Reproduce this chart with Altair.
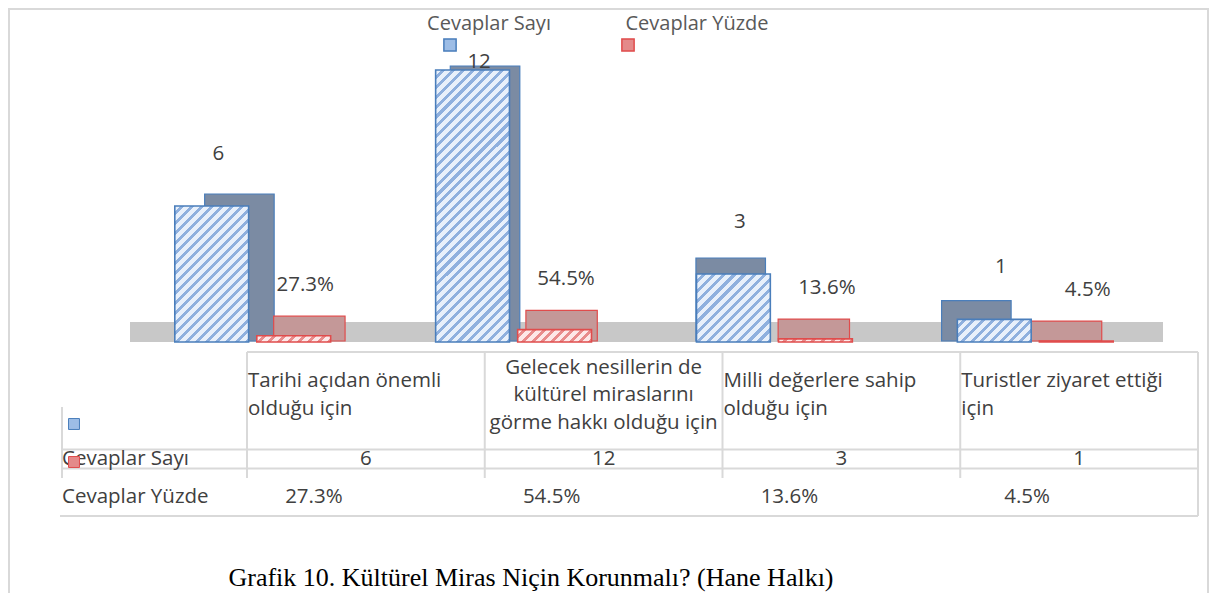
import math
import altair as alt
import pandas as pd

# ---------------- data ----------------
categories = [
    "Tarihi açıdan önemli olduğu için",
    "Gelecek nesillerin de kültürel miraslarını görme hakkı olduğu için",
    "Milli değerlere sahip olduğu için",
    "Turistler ziyaret ettiği için",
]
header_labels = [
    "Tarihi açıdan önemli\nolduğu için",
    "Gelecek nesillerin de\nkültürel miraslarını\ngörme hakkı olduğu için",
    "Milli değerlere sahip\nolduğu için",
    "Turistler ziyaret ettiği\niçin",
]
series = ["Cevaplar Sayı", "Cevaplar Yüzde"]
counts = [6, 12, 3, 1]
percents = [27.3, 54.5, 13.6, 4.5]
count_labels = ["6", "12", "3", "1"]
percent_labels = ["27.3%", "54.5%", "13.6%", "4.5%"]
caption = "Grafik 10. Kültürel Miras Niçin Korunmalı? (Hane Halkı)"

# ---------------- tables built from the lists ----------------
bars = pd.DataFrame(
    [{"category": c, "series": series[0], "value": v, "label": l}
     for c, v, l in zip(categories, counts, count_labels)]
    + [{"category": c, "series": series[1], "value": p / 100.0, "label": l}
       for c, p, l in zip(categories, percents, percent_labels)]
)
header_lines = pd.DataFrame(
    [{"category": c, "line": ln, "idx": i, "n": len(h.split("\n"))}
     for c, h in zip(categories, header_labels) for i, ln in enumerate(h.split("\n"))]
)
row_counts = pd.DataFrame({"category": categories, "label": count_labels})
row_pcts = pd.DataFrame({"category": categories, "label": percent_labels})
legend_df = pd.DataFrame({"series": series})

# ---------------- styling ----------------
W, H = 1201, 585
FONT = "Open Sans"
FS = 20.5
TXT = "#404040"
GRID = "#d9d9d9"
BLUE_LINE, RED_LINE = "#4a7ebb", "#e04c4c"
BACK_BLUE, BACK_RED = "#7b8ba3", "#c49898"

x_front = alt.Scale(domain=categories, range=[114.3, 1157.7], paddingInner=0, paddingOuter=0)
x_back_blue = alt.Scale(domain=categories, range=[147.2, 1129.8], paddingInner=0, paddingOuter=0)
x_back_red = alt.Scale(domain=categories, range=[135.6, 1144.5], paddingInner=0, paddingOuter=0)
off_scale = alt.Scale(domain=series, paddingInner=0.1, paddingOuter=0.64)
off_text = alt.Scale(type="point", domain=series, padding=1.089)
y_front = alt.Scale(domain=[0, 12], range=[334, 62], nice=False)
y_back = alt.Scale(domain=[0, 12], range=[314, 58], nice=False)
col_center = alt.Scale(domain=categories, range=[239, 1190], paddingInner=0, paddingOuter=0)
col_start = alt.Scale(type="point", domain=categories, range=[239, 952.25], padding=0)
row_scale = alt.Scale(domain=series, range=[451, 489], padding=0)
hdr_scale = alt.Scale(domain=[-1, 1], range=[359.5, 414.5], nice=False)

# hatch fill for the front faces (diagonal stripes as a stepped gradient)
BAR_W = 260.67 / 3.18 * 0.9
PX_PER_UNIT = 272 / 12


def hatch(h, light, dark, w=BAR_W, period=7.0, frac=0.42):
    h = max(h, 1.0)
    lam = (1 / h + 1 / w) / (1 / h ** 2 + 1 / w ** 2)
    n = max(1, int(round((w + h) / math.sqrt(2) / period)))
    stops = []
    for k in range(n):
        a = k / n
        b = (k + 1 - frac) / n
        c = (k + 1) / n
        stops += [{"offset": a, "color": light}, {"offset": b, "color": light},
                  {"offset": b, "color": dark}, {"offset": c, "color": dark}]
    return {"gradient": "linear", "x1": 0, "y1": 0, "x2": lam / h, "y2": lam / w, "stops": stops}


# frame
frame = alt.Chart(legend_df).mark_rule(color=GRID, strokeWidth=2).encode(
    x=alt.value(0), x2=alt.value(W), y=alt.value(1), y2=alt.value(1))
frame_l = alt.Chart(legend_df).mark_rule(color=GRID, strokeWidth=2).encode(
    x=alt.value(1), y=alt.value(0), y2=alt.value(H))
frame_r = alt.Chart(legend_df).mark_rule(color=GRID, strokeWidth=2).encode(
    x=alt.value(W - 1), y=alt.value(0), y2=alt.value(H))

# floor
floor = alt.Chart(legend_df).mark_rect(color="#c8c8c8").encode(
    x=alt.value(122), x2=alt.value(1155), y=alt.value(314), y2=alt.value(334))

# back (top + side faces of the 3-D blocks), reaching down to the floor
back_layers = []
for s, xs, fillc, line in [(series[0], x_back_blue, BACK_BLUE, BLUE_LINE),
                           (series[1], x_back_red, BACK_RED, RED_LINE)]:
    back_layers.append(
        alt.Chart(bars).transform_filter(alt.datum.series == s).transform_calculate(
            base="-0.89").mark_bar(strokeWidth=1.2, fill=fillc, stroke=line).encode(
            x=alt.X("category:N", scale=xs, axis=None),
            xOffset=alt.XOffset("series:N", scale=off_scale),
            y=alt.Y("value:Q", scale=y_back, axis=None),
            y2="base:Q",
        )
    )

front_layers = []
for s, vals, scale_v, light, dark, line in [
    (series[0], counts, 1.0, "#e8f0fb", "#8fb0de", BLUE_LINE),
    (series[1], percents, 0.01, "#fde8e8", "#e88c8c", RED_LINE),
]:
    for cat, v in zip(categories, vals):
        front_layers.append(
            alt.Chart(bars).transform_filter(
                (alt.datum.category == cat) & (alt.datum.series == s)
            ).mark_bar(strokeWidth=1.6, fill=hatch(v * scale_v * PX_PER_UNIT, light, dark),
                       stroke=line).encode(
                x=alt.X("category:N", scale=x_front, axis=None),
                xOffset=alt.XOffset("series:N", scale=off_scale),
                y=alt.Y("value:Q", scale=y_front, axis=None),
            )
        )

labels = alt.Chart(bars).transform_calculate(
    ly="datum.series == 'Cevaplar Sayı' ? min(datum.value + 2.3, 12.35) : datum.value + 2.25"
).mark_text(font=FONT, fontSize=FS, color=TXT, dx=9, baseline="middle").encode(
    x=alt.X("category:N", scale=x_front, axis=None),
    xOffset=alt.XOffset("series:N", scale=off_text),
    y=alt.Y("ly:Q", scale=y_front, axis=None),
    text="label:N",
)

# legend at top
leg_text = alt.Chart(legend_df).mark_text(font=FONT, fontSize=20, color="#595959", baseline="middle").encode(
    x=alt.X("series:N", scale=alt.Scale(domain=series, range=[481, 689], padding=0), axis=None),
    y=alt.value(16),
    text="series:N",
)
leg_sym = alt.Chart(legend_df).mark_square(size=150, opacity=1, strokeWidth=1.5).encode(
    x=alt.X("series:N", scale=alt.Scale(domain=series, range=[442, 620], padding=0), axis=None),
    y=alt.value(37),
    color=alt.Color("series:N", scale=alt.Scale(domain=series, range=["#9dbde6", "#e48a8a"]), legend=None),
    stroke=alt.Stroke("series:N", scale=alt.Scale(domain=series, range=[BLUE_LINE, RED_LINE]), legend=None),
)

# data table
rule_style = dict(color=GRID, strokeWidth=2)
h_top = alt.Chart(legend_df).mark_rule(**rule_style).encode(
    x=alt.value(239), x2=alt.value(1190), y=alt.value(344))
h_rows = alt.Chart(legend_df).mark_rule(**rule_style).encode(
    x=alt.value(54), x2=alt.value(1190),
    y=alt.Y("series:N", scale=alt.Scale(domain=series, range=[432, 470], padding=0), axis=None))
h_bottom = alt.Chart(legend_df).mark_rule(**rule_style).encode(
    x=alt.value(52), x2=alt.value(1190), y=alt.value(508))
v_cols = alt.Chart(row_counts).mark_rule(**rule_style).encode(
    x=alt.X("category:N", scale=col_start, axis=None),
    y=alt.value(344), y2=alt.value(470))
v_right = alt.Chart(legend_df).mark_rule(**rule_style).encode(
    x=alt.value(1190), y=alt.value(344), y2=alt.value(508))
v_left = alt.Chart(legend_df).mark_rule(**rule_style).encode(
    x=alt.value(54), y=alt.value(399), y2=alt.value(470))

hdr_left = alt.Chart(header_lines).transform_filter(
    alt.datum.category != categories[1]
).transform_calculate(off="datum.idx - (datum.n - 1) / 2").mark_text(
    font=FONT, fontSize=FS, color=TXT, align="left", baseline="middle", dx=1).encode(
    x=alt.X("category:N", scale=col_start, axis=None),
    y=alt.Y("off:Q", scale=hdr_scale, axis=None),
    text="line:N",
)
hdr_center = alt.Chart(header_lines).transform_filter(
    alt.datum.category == categories[1]
).transform_calculate(off="datum.idx - (datum.n - 1) / 2").mark_text(
    font=FONT, fontSize=FS, color=TXT, align="center", baseline="middle").encode(
    x=alt.X("category:N", scale=col_center, axis=None),
    y=alt.Y("off:Q", scale=hdr_scale, axis=None),
    text="line:N",
)
row_names = alt.Chart(legend_df).mark_text(font=FONT, fontSize=FS, color=TXT, align="left",
                                           baseline="middle").encode(
    x=alt.value(54),
    y=alt.Y("series:N", scale=row_scale, axis=None),
    text="series:N",
)
keys = alt.Chart(legend_df).mark_square(size=120, opacity=1, strokeWidth=1, yOffset=-35).encode(
    x=alt.value(66),
    y=alt.Y("series:N", scale=row_scale, axis=None),
    color=alt.Color("series:N", scale=alt.Scale(domain=series, range=["#9dbde6", "#e48a8a"]), legend=None),
    stroke=alt.Stroke("series:N", scale=alt.Scale(domain=series, range=[BLUE_LINE, RED_LINE]), legend=None),
)
cnt_text = alt.Chart(row_counts).mark_text(font=FONT, fontSize=FS, color=TXT, baseline="middle").encode(
    x=alt.X("category:N", scale=col_center, axis=None),
    y=alt.value(451),
    text="label:N",
)
pct_text = alt.Chart(row_pcts).mark_text(font=FONT, fontSize=FS, color=TXT, baseline="middle", dx=-52).encode(
    x=alt.X("category:N", scale=col_center, axis=None),
    y=alt.value(489),
    text="label:N",
)
cap = alt.Chart(legend_df).transform_filter(alt.datum.series == series[0]).mark_text(
    font="Liberation Serif", fontSize=26, color="#000000", baseline="middle", text=caption
).encode(x=alt.value(523), y=alt.value(570))

chart = alt.layer(
    frame, frame_l, frame_r, floor, *back_layers, *front_layers, labels, leg_text, leg_sym,
    h_top, h_rows, h_bottom, v_cols, v_right, v_left,
    hdr_left, hdr_center, row_names, keys, cnt_text, pct_text, cap,
).resolve_scale(
    x="independent", y="independent", xOffset="independent", color="independent", stroke="independent"
).properties(
    width=W, height=H, padding=0, autosize=alt.AutoSizeParams(type="none")
).configure_view(strokeWidth=0)

chart.save("out.html", embed_options={"renderer": "svg", "actions": False})
